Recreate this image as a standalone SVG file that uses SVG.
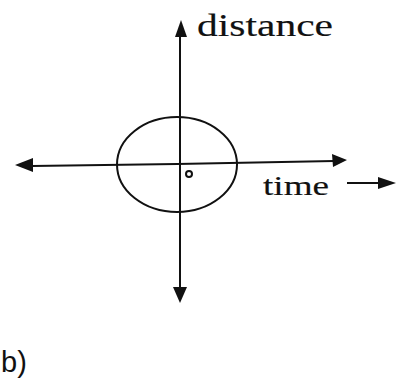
<svg xmlns="http://www.w3.org/2000/svg" width="399" height="378" viewBox="0 0 399 378">
<defs>
<style>
.ln{stroke:#111;stroke-width:2;fill:none}
.lbl{font-family:"Liberation Serif","DejaVu Serif",serif;fill:#111;stroke:#111;stroke-width:0.15}
</style>
</defs>
<rect width="399" height="378" fill="#fff"/>
<g id="connectors">
<line class="ln" x1="180" y1="164" x2="180" y2="36"/>
<polygon points="181,20 175,37 187,37" fill="#111"/>
<line class="ln" x1="180" y1="164" x2="180" y2="288"/>
<polygon points="180,303 173,287 187,287" fill="#111"/>
<line class="ln" x1="177" y1="164" x2="32" y2="166"/>
<polygon points="15,165 33,158 33,172" fill="#111"/>
<line class="ln" x1="177" y1="164" x2="334" y2="161"/>
<polygon points="347,160 332,154 333,167" fill="#111"/>
<line class="ln" x1="347" y1="183" x2="380" y2="183"/>
<polygon points="396,183 378,177 378,189" fill="#111"/>
</g>
<g id="ellipse">
<ellipse class="ln" cx="177" cy="164.5" rx="60" ry="47.5"/>
</g>
<g id="origin">
<circle cx="189" cy="174" r="3" fill="none" stroke="#111" stroke-width="2"/>
</g>
<g id="label-distance">
<text class="lbl" x="197" y="36" font-size="31" textLength="136" lengthAdjust="spacingAndGlyphs">distance</text>
</g>
<g id="label-time">
<text class="lbl" x="263" y="195" font-size="27" textLength="66" lengthAdjust="spacingAndGlyphs">time</text>
</g>
<g id="label-b">
<text x="1" y="372" font-family="Liberation Sans, Arial, sans-serif" font-size="29" fill="#111">b)</text>
</g>
</svg>
